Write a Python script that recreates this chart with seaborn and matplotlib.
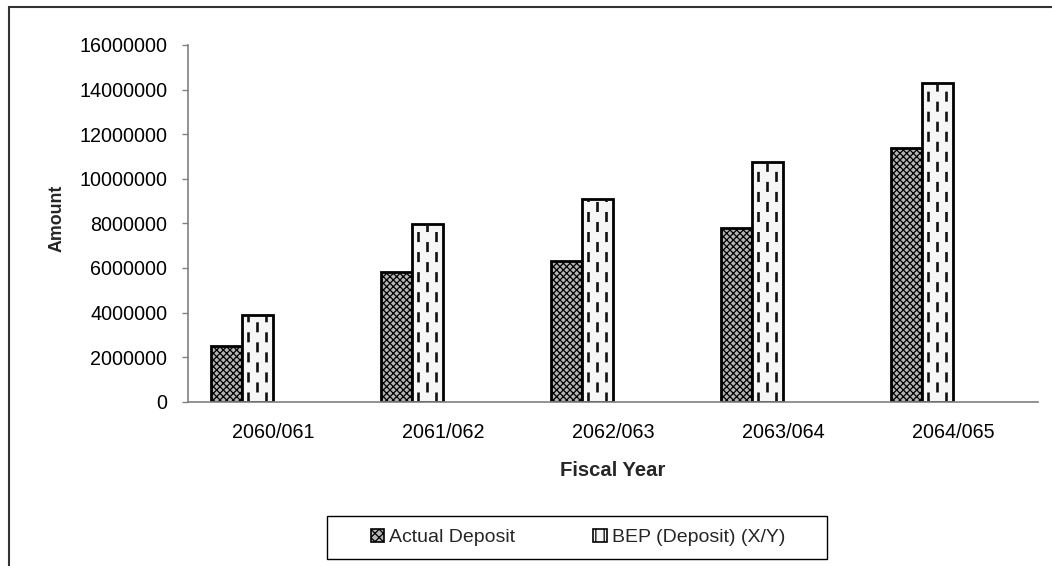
import numpy as np
import pandas as pd
import matplotlib
matplotlib.use("Agg")
import matplotlib.pyplot as plt
from matplotlib.patches import Patch, Rectangle
import seaborn as sns

# Fiscal years and deposit amounts
years = ["2060/061", "2061/062", "2062/063", "2063/064", "2064/065"]
actual_deposit = [2500000, 5800000, 6330000, 7800000, 11400000]
bep_deposit = [3900000, 7950000, 9080000, 10750000, 14280000]
y_ticks = [0, 2000000, 4000000, 6000000, 8000000, 10000000, 12000000, 14000000, 16000000]

series_actual = "Actual Deposit"
series_bep = "BEP (Deposit) (X/Y)"
# two unused series slots keep the pair of bars in the left half of each category
series_slots = [series_actual, series_bep, "_slot3", "_slot4"]

df = pd.DataFrame({
    "year": years * 2,
    "amount": actual_deposit + bep_deposit,
    "series": [series_actual] * len(years) + [series_bep] * len(years),
})

sns.set_style("white")
plt.rcParams["font.family"] = ["Liberation Sans", "DejaVu Sans"]
plt.rcParams["hatch.linewidth"] = 0.9

W, H = 1052, 566
fig = plt.figure(figsize=(W / 100, H / 100), dpi=100)
ax = fig.add_axes([188 / W, 1 - 401.7 / H, 850 / W, (401.7 - 45) / H])

palette = {series_actual: "#b4b4b4", series_bep: "#f6f6f6",
           "_slot3": "#ffffff", "_slot4": "#ffffff"}
sns.barplot(data=df, x="year", y="amount", hue="series", hue_order=series_slots,
            order=years, palette=palette, width=0.73, dodge=True,
            edgecolor="black", linewidth=2.0, saturation=1, legend=False,
            errorbar=None, ax=ax)

# hatch patterns: cross mesh for actual deposit, dashed verticals for BEP
bep_rgba = matplotlib.colors.to_rgba(palette[series_bep])
act_rgba = matplotlib.colors.to_rgba(palette[series_actual])
for p in list(ax.patches):
    fc = p.get_facecolor()
    if np.allclose(fc, act_rgba):
        p.set_hatch("xxxxx")
    elif np.allclose(fc, bep_rgba):
        x0, w, h = p.get_x(), p.get_width(), p.get_height()
        for frac, off in [(0.18, 0.0), (0.47, 3.8), (0.76, 0.0)]:
            ln, = ax.plot([x0 + frac * w] * 2, [0, h], color="#111111",
                          lw=1.9, linestyle=(off, (3.8, 3.8)), zorder=p.get_zorder() + 0.1)
            ln.set_clip_path(p)

ax.set_xlim(-0.5, len(years) - 0.5)
ax.set_ylim(0, 16000000)
ax.set_yticks(y_ticks)
ax.set_yticklabels([str(v) for v in y_ticks])

# category boundaries carry the tick marks, labels sit at category centres
ax.set_xticks(np.arange(-0.5, len(years)), labels=[""] * (len(years) + 1))
ax.set_xticks(np.arange(len(years)), labels=years, minor=True)
ax.tick_params(axis="x", which="major", length=5, width=1, color="#808080", direction="out")
ax.tick_params(axis="x", which="minor", length=0, pad=15, labelsize=14.2, labelcolor="black")
ax.tick_params(axis="y", length=4, width=1, color="#808080", direction="out",
               pad=11, labelsize=14.2, labelcolor="black", left=True)

for side in ["top", "right"]:
    ax.spines[side].set_visible(False)
for side in ["left", "bottom"]:
    ax.spines[side].set_color("#808080")
    ax.spines[side].set_linewidth(1.2)

ax.set_xlabel("Fiscal Year", fontsize=14.6, fontweight="bold", labelpad=14)
ax.set_ylabel("Amount", fontsize=12.8, fontweight="bold", labelpad=10)
ax.yaxis.label.set_y(0.515)

# legend with its own frame
handles = [
    Patch(facecolor=palette[series_actual], edgecolor="black", hatch="xxxx", linewidth=1.2),
    Patch(facecolor=palette[series_bep], edgecolor="black", hatch="||", linewidth=1.2),
]
fig.legend(handles, [series_actual, series_bep], loc="center",
           bbox_to_anchor=(578 / W, 1 - 537.5 / H), ncol=2, frameon=False,
           fontsize=14, handlelength=0.7, handleheight=0.7, handletextpad=0.25,
           columnspacing=4.0)
fig.patches.append(Rectangle((327 / W, 1 - 559 / H), 500 / W, 43 / H,
                             transform=fig.transFigure, fill=False,
                             edgecolor="black", linewidth=1.0))

# outer chart border
fig.patches.append(Rectangle((9 / W, -0.05), 1.2, 1.05 - 7 / H,
                             transform=fig.transFigure, fill=False,
                             edgecolor="#333333", linewidth=1.5))

fig.savefig("out.png", dpi=100, facecolor="white")
